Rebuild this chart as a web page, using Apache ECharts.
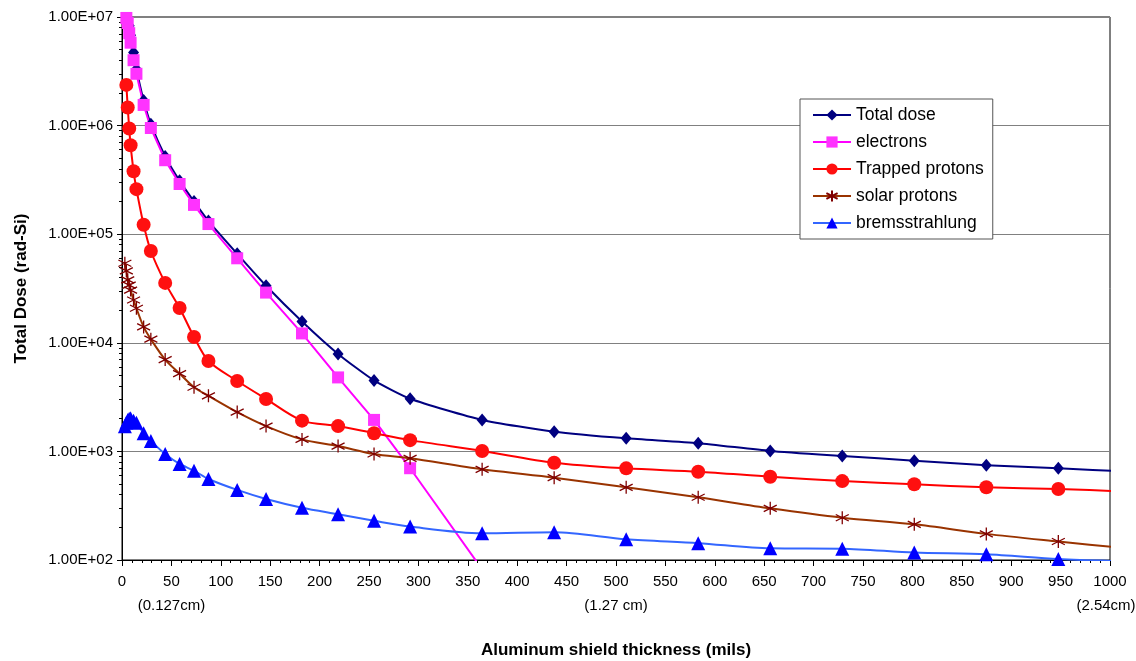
<!DOCTYPE html>
<html>
<head>
<meta charset="utf-8">
<title>Total dose vs aluminum shield thickness</title>
<script src="https://cdn.jsdelivr.net/npm/echarts@6/dist/echarts.min.js"></script>
<style>
html, body { margin: 0; padding: 0; background: #fff; }
#main { width: 1136px; height: 661px; }
</style>
</head>
<body>
<div id="main"></div>
<script>
// shield thickness in mils (x of every point)
var thickness = [2.9, 4.4, 5.8, 7.3, 8.7, 11.7, 14.6, 21.9, 29.2, 43.7, 58.3, 72.9, 87.5, 116.6, 145.8,
  182.2, 218.7, 255.1, 291.6, 364.5, 437.4, 510.3, 583.2, 656.1, 729.0, 801.9, 874.8, 947.7, 1020.6];

// dose in rad-Si, null = no point
var totalDose = [null, 1.2e7, 1.05e7, 8.3e6, 6.8e6, 4.7e6, 3.3e6, 1.7e6, 1.03e6, 5.2e5, 3.1e5, 2.0e5, 1.32e5, 6.6e4, 3.35e4,
  1.57e4, 7.9e3, 4.5e3, 3.05e3, 1.95e3, 1.52e3, 1.32e3, 1.19e3, 1.01e3, 908, 822, 745, 698, 650];
var electrons = [null, 9.8e6, 8.8e6, 7.1e6, 5.8e6, 4.0e6, 3.0e6, 1.55e6, 9.5e5, 4.8e5, 2.9e5, 1.86e5, 1.24e5, 6.0e4, 2.9e4,
  1.22e4, 4.8e3, 1.95e3, 700, 82, null, null, null, null, null, null, null, null, null];
var trappedProtons = [null, 2.37e6, 1.47e6, 9.4e5, 6.6e5, 3.8e5, 2.6e5, 1.22e5, 7.0e4, 3.56e4, 2.09e4, 1.13e4, 6.8e3, 4.45e3, 3.04e3,
  1.92e3, 1.71e3, 1.47e3, 1.27e3, 1.01e3, 787, 698, 650, 585, 533, 498, 467, 451, 425];
var solarProtons = [5.4e4, 4.6e4, 3.8e4, 3.4e4, 3.06e4, 2.48e4, 2.08e4, 1.4e4, 1.08e4, 7.0e3, 5.2e3, 3.9e3, 3.25e3, 2.3e3, 1.71e3,
  1.29e3, 1.12e3, 946, 863, 684, 573, 467, 378, 299, 245, 213, 174, 148, 127];
var bremsstrahlung = [1.7e3, 1.85e3, 1.95e3, 2.0e3, 2.02e3, 1.92e3, 1.84e3, 1.47e3, 1.25e3, 946, 766, 664, 557, 442, 365,
  303, 264, 230, 203, 176, 180, 155, 143, 128, 127, 117, 113, 102, 97];

var yTickLabels = ['1.00E+02', '1.00E+03', '1.00E+04', '1.00E+05', '1.00E+06', '1.00E+07'];
var cmLabels = { 50: '(0.127cm)', 500: '(1.27 cm)', 1000: '(2.54cm)' };

var font = '"Liberation Sans", Arial, Helvetica, sans-serif';

function pairs(values) {
  var out = [];
  for (var i = 0; i < thickness.length; i++) {
    if (values[i] != null) out.push([thickness[i], values[i]]);
  }
  return out;
}

// star marker: vertical bar + X
var starPath = 'path://M5,0L5,10M0.7,2.5L9.3,7.5M9.3,2.5L0.7,7.5';

var chart = echarts.init(document.getElementById('main'));
chart.setOption({
  animation: false,
  textStyle: { fontFamily: font },
  grid: {
    left: 122, right: 26, top: 17, bottom: 101,
    outerBoundsMode: 'none',
    containLabel: false,
    show: true, borderColor: '#000', borderWidth: 1
  },
  legend: {
    orient: 'vertical',
    left: 800, top: 99,
    padding: [7, 9, 7, 12],
    itemGap: 9,
    itemWidth: 38,
    itemHeight: 14,
    backgroundColor: '#fff',
    borderColor: '#555',
    borderWidth: 1,
    textStyle: { fontSize: 17.5, lineHeight: 17, color: '#000', fontFamily: font }
  },
  xAxis: [{
    type: 'value',
    min: 0, max: 1000, interval: 50,
    name: 'Aluminum shield thickness (mils)',
    nameLocation: 'middle',
    nameGap: 82,
    nameTextStyle: { fontSize: 17, fontWeight: 'bold', color: '#000' },
    axisLine: { lineStyle: { color: '#000' } },
    axisTick: { inside: false, length: 6, lineStyle: { color: '#000' } },
    minorTick: { show: true, splitNumber: 5, length: 3, lineStyle: { color: '#000' } },
    axisLabel: { fontSize: 15, color: '#000', margin: 14, formatter: function (v) { return String(v); } },
    splitLine: { show: false }
  }, {
    type: 'value',
    position: 'bottom',
    offset: 30,
    min: 0, max: 1000, interval: 50,
    axisLine: { show: false },
    axisTick: { show: false },
    splitLine: { show: false },
    axisLabel: {
      fontSize: 15, color: '#000', margin: 8,
      formatter: function (v) {
        if (!cmLabels[v]) return '';
        return v === 1000 ? '{r|' + cmLabels[v] + '}' : cmLabels[v];
      },
      rich: { r: { fontSize: 15, color: '#000', padding: [0, 8, 0, 0] } }
    }
  }],
  yAxis: {
    type: 'log',
    min: 100, max: 1e7,
    logBase: 10,
    name: 'Total Dose (rad-Si)',
    nameLocation: 'middle',
    nameGap: 92,
    nameTextStyle: { fontSize: 17, fontWeight: 'bold', color: '#000' },
    axisLine: { show: true, lineStyle: { color: '#000' } },
    axisTick: { show: true, length: 5, lineStyle: { color: '#000' } },
    minorTick: { show: true, splitNumber: 9, length: 3, lineStyle: { color: '#000' } },
    axisLabel: {
      fontSize: 15, color: '#000', margin: 9,
      formatter: function (v) { return yTickLabels[Math.round(Math.log10(v)) - 2]; }
    },
    splitLine: { show: true, lineStyle: { color: '#808080', width: 1 } }
  },
  series: [{
    name: 'Total dose',
    type: 'line',
    data: pairs(totalDose),
    smooth: 0.2,
    symbol: 'diamond',
    symbolSize: [11, 13],
    lineStyle: { color: '#000080', width: 2 },
    itemStyle: { color: '#000080' }
  }, {
    name: 'electrons',
    type: 'line',
    data: pairs(electrons),
    symbol: 'rect',
    symbolSize: 12,
    lineStyle: { color: '#ff00ff', width: 2 },
    itemStyle: { color: '#ff33ff' }
  }, {
    name: 'Trapped protons',
    type: 'line',
    data: pairs(trappedProtons),
    smooth: 0.3,
    symbol: 'circle',
    symbolSize: 14,
    lineStyle: { color: '#ff0000', width: 2 },
    itemStyle: { color: '#ff1010' }
  }, {
    name: 'solar protons',
    type: 'line',
    data: pairs(solarProtons),
    smooth: 0.3,
    symbol: starPath,
    symbolSize: 13,
    lineStyle: { color: '#993300', width: 2 },
    itemStyle: { color: '#800000', borderColor: '#800000', borderWidth: 1.3 }
  }, {
    name: 'bremsstrahlung',
    type: 'line',
    data: pairs(bremsstrahlung),
    smooth: 0.3,
    symbol: 'triangle',
    symbolSize: 14,
    lineStyle: { color: '#3366ff', width: 2 },
    itemStyle: { color: '#0000ff' }
  }]
});
</script>
</body>
</html>
